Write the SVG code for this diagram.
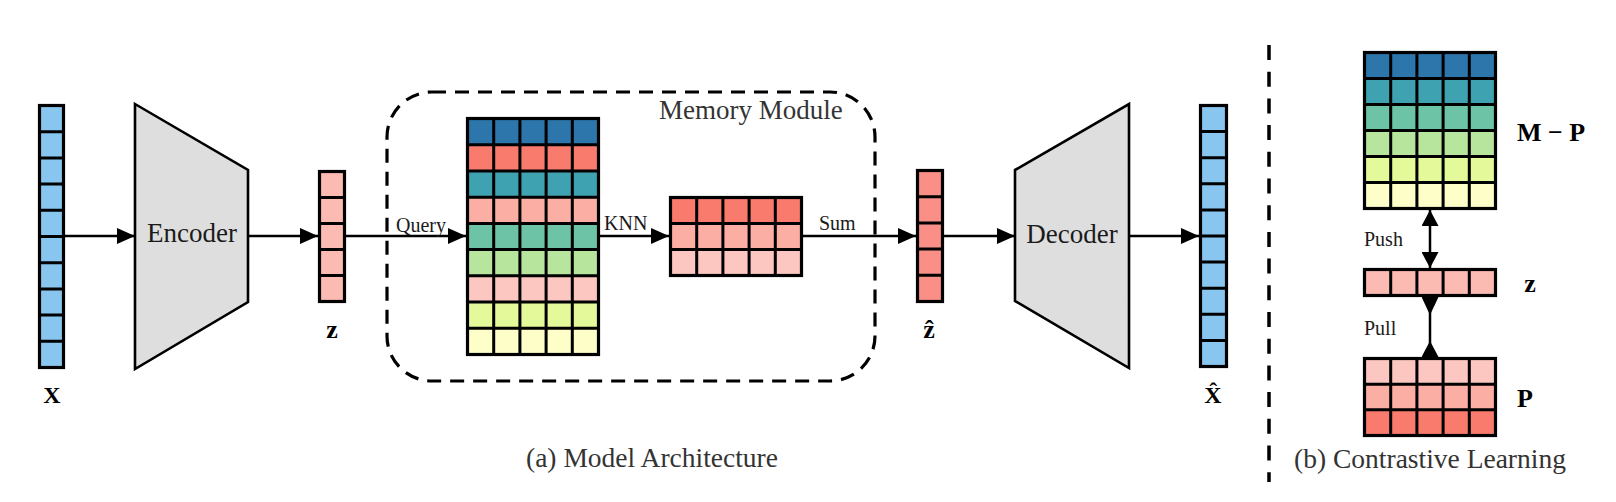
<svg xmlns="http://www.w3.org/2000/svg" width="1616" height="502" viewBox="0 0 1616 502">
<style>
text{font-family:"Liberation Serif",Tinos,"Times New Roman","DejaVu Serif",serif;fill:#1a1a1a}
.lbl{font-size:27px}
.cap{font-size:27.5px;fill:#333}
.small{font-size:20px}
.math{font-size:26px;font-weight:bold;fill:#000}
.grid{fill:none;stroke:#000;stroke-width:3}
.outer{fill:none;stroke:#000;stroke-width:3.2}
.trap{fill:#dedede;stroke:#000;stroke-width:2.6;stroke-linejoin:miter}
.conn{stroke:#000;stroke-width:2.5;fill:none}
.c1{fill:#2c76ab}.c2{fill:#f97b6e}.c3{fill:#3ea2b0}.c4{fill:#fbaea4}.c5{fill:#6cc3a5}
.c6{fill:#b7e59e}.c7{fill:#fcc7c1}.c8{fill:#e3f99a}.c9{fill:#fefec8}
.blue{fill:#89c6ef}.zc{fill:#fbbab2}.zh{fill:#f98f87}
</style>
<defs>
<marker id="arr" markerUnits="userSpaceOnUse" markerWidth="18" markerHeight="16" refX="18" refY="8" orient="auto"><path d="M0,0 L18,8 L0,16 Z" fill="#000"/></marker>
<marker id="arr2" markerUnits="userSpaceOnUse" markerWidth="16" markerHeight="17" refX="16" refY="8.5" orient="auto-start-reverse"><path d="M0,0 L16,8.5 L0,17 Z" fill="#000"/></marker>
<marker id="pullS" markerUnits="userSpaceOnUse" markerWidth="18" markerHeight="17" refX="0" refY="8.5" orient="auto"><path d="M0,0 L18,8.5 L0,17 Z" fill="#000"/></marker>
<marker id="pullE" markerUnits="userSpaceOnUse" markerWidth="16" markerHeight="17" refX="16" refY="8.5" orient="auto"><path d="M16,0 L0,8.5 L16,17 Z" fill="#000"/></marker>
</defs>
<rect width="1616" height="502" fill="#fff"/>

<!-- connectors -->
<g id="connectors">
<line class="conn" x1="65" y1="236" x2="135" y2="236" marker-end="url(#arr)"/>
<line class="conn" x1="248" y1="236" x2="318" y2="236" marker-end="url(#arr)"/>
<line class="conn" x1="346" y1="236" x2="466" y2="236" marker-end="url(#arr)"/>
<line class="conn" x1="600" y1="236" x2="669" y2="236" marker-end="url(#arr)"/>
<line class="conn" x1="803" y1="236" x2="916" y2="236" marker-end="url(#arr)"/>
<line class="conn" x1="944" y1="236" x2="1015" y2="236" marker-end="url(#arr)"/>
<line class="conn" x1="1129" y1="236" x2="1199" y2="236" marker-end="url(#arr)"/>
<line class="conn" x1="1430" y1="210" x2="1430" y2="268" marker-start="url(#arr2)" marker-end="url(#arr2)"/>
<line class="conn" x1="1430" y1="297" x2="1430" y2="357" marker-start="url(#pullS)" marker-end="url(#pullE)"/>
<text class="small" x="396" y="232" font-family="Liberation Serif, serif">Query</text>
<text class="small" x="604" y="230" font-family="Liberation Serif, serif">KNN</text>
<text class="small" x="819" y="230" font-family="Liberation Serif, serif">Sum</text>
<text class="small" x="1364" y="246" font-family="Liberation Serif, serif">Push</text>
<text class="small" x="1364" y="335" font-family="Liberation Serif, serif">Pull</text>
</g>

<!-- memory module container -->
<g id="memory-module">
<rect x="387" y="92" width="488" height="289" rx="45" ry="45" fill="none" stroke="#000" stroke-width="3.2" stroke-dasharray="14 9"/>
<text class="lbl" x="659" y="119" style="fill:#333" font-family="Liberation Serif, serif">Memory Module</text>
</g>

<!-- separator -->
<g id="separator">
<line x1="1269" y1="45" x2="1269" y2="482" stroke="#000" stroke-width="3.5" stroke-dasharray="15 11.7"/>
</g>

<!-- X input -->
<g id="input-x">
<rect class="blue" x="39.5" y="105.5" width="24" height="262"/>
<path class="grid" d="M39.5,131.7H63.5M39.5,157.9H63.5M39.5,184.1H63.5M39.5,210.3H63.5M39.5,236.5H63.5M39.5,262.7H63.5M39.5,288.9H63.5M39.5,315.1H63.5M39.5,341.3H63.5"/>
<rect class="outer" x="39.5" y="105.5" width="24" height="262"/>
<text class="math" x="52" y="403" text-anchor="middle" style="font-size:24px">X</text>
</g>

<!-- Encoder -->
<g id="encoder">
<polygon class="trap" points="135,104 248,170 248,302 135,369"/>
<text class="lbl" x="192" y="242" text-anchor="middle" font-family="Liberation Serif, serif">Encoder</text>
</g>

<!-- z -->
<g id="latent-z">
<rect class="zc" x="319.5" y="171.5" width="25" height="130"/>
<path class="grid" d="M319.5,197.5H344.5M319.5,223.5H344.5M319.5,249.5H344.5M319.5,275.5H344.5"/>
<rect class="outer" x="319.5" y="171.5" width="25" height="130"/>
<text class="math" x="332" y="338" text-anchor="middle">z</text>
</g>

<!-- Memory matrix -->
<g id="memory-matrix">
<rect class="c1" x="467.5" y="118.5" width="131" height="26.22"/>
<rect class="c2" x="467.5" y="144.72" width="131" height="26.22"/>
<rect class="c3" x="467.5" y="170.94" width="131" height="26.22"/>
<rect class="c4" x="467.5" y="197.17" width="131" height="26.22"/>
<rect class="c5" x="467.5" y="223.39" width="131" height="26.22"/>
<rect class="c6" x="467.5" y="249.61" width="131" height="26.22"/>
<rect class="c7" x="467.5" y="275.83" width="131" height="26.22"/>
<rect class="c8" x="467.5" y="302.06" width="131" height="26.22"/>
<rect class="c9" x="467.5" y="328.28" width="131" height="26.22"/>
<path class="grid" d="M493.7,118.5V354.5M519.9,118.5V354.5M546.1,118.5V354.5M572.3,118.5V354.5M467.5,144.72H598.5M467.5,170.94H598.5M467.5,197.17H598.5M467.5,223.39H598.5M467.5,249.61H598.5M467.5,275.83H598.5M467.5,302.06H598.5M467.5,328.28H598.5"/>
<rect class="outer" x="467.5" y="118.5" width="131" height="236"/>
</g>

<!-- KNN result -->
<g id="knn-matrix">
<rect class="c2" x="670.5" y="197.5" width="131" height="26"/>
<rect class="c4" x="670.5" y="223.5" width="131" height="26"/>
<rect class="c7" x="670.5" y="249.5" width="131" height="26"/>
<path class="grid" d="M696.7,197.5V275.5M722.9,197.5V275.5M749.1,197.5V275.5M775.3,197.5V275.5M670.5,223.5H801.5M670.5,249.5H801.5"/>
<rect class="outer" x="670.5" y="197.5" width="131" height="78"/>
</g>

<!-- z hat -->
<g id="latent-zhat">
<rect class="zh" x="917.5" y="170.5" width="25" height="131"/>
<path class="grid" d="M917.5,196.7H942.5M917.5,222.9H942.5M917.5,249.1H942.5M917.5,275.3H942.5"/>
<rect class="outer" x="917.5" y="170.5" width="25" height="131"/>
<text class="math" x="929" y="338" text-anchor="middle">ẑ</text>
</g>

<!-- Decoder -->
<g id="decoder">
<polygon class="trap" points="1015,170 1129,104 1129,368 1015,301"/>
<text class="lbl" x="1072" y="243" text-anchor="middle" font-family="Liberation Serif, serif">Decoder</text>
</g>

<!-- X hat -->
<g id="output-xhat">
<rect class="blue" x="1200.5" y="105.5" width="26" height="261"/>
<path class="grid" d="M1200.5,131.6H1226.5M1200.5,157.7H1226.5M1200.5,183.8H1226.5M1200.5,209.9H1226.5M1200.5,236H1226.5M1200.5,262.1H1226.5M1200.5,288.2H1226.5M1200.5,314.3H1226.5M1200.5,340.4H1226.5"/>
<rect class="outer" x="1200.5" y="105.5" width="26" height="261"/>
<text class="math" x="1213" y="403" text-anchor="middle" style="font-size:24px">X̂</text>
</g>

<!-- (b) M - P -->
<g id="negatives-m-minus-p">
<rect class="c1" x="1364.5" y="52.5" width="131" height="26"/>
<rect class="c3" x="1364.5" y="78.5" width="131" height="26"/>
<rect class="c5" x="1364.5" y="104.5" width="131" height="26"/>
<rect class="c6" x="1364.5" y="130.5" width="131" height="26"/>
<rect class="c8" x="1364.5" y="156.5" width="131" height="26"/>
<rect class="c9" x="1364.5" y="182.5" width="131" height="26"/>
<path class="grid" d="M1390.7,52.5V208.5M1416.9,52.5V208.5M1443.1,52.5V208.5M1469.3,52.5V208.5M1364.5,78.5H1495.5M1364.5,104.5H1495.5M1364.5,130.5H1495.5M1364.5,156.5H1495.5M1364.5,182.5H1495.5"/>
<rect class="outer" x="1364.5" y="52.5" width="131" height="156"/>
<text class="math" x="1517" y="141">M − P</text>
</g>

<!-- (b) z -->
<g id="anchor-z">
<rect class="zc" x="1364.5" y="269.5" width="131" height="26"/>
<path class="grid" d="M1390.7,269.5V295.5M1416.9,269.5V295.5M1443.1,269.5V295.5M1469.3,269.5V295.5"/>
<rect class="outer" x="1364.5" y="269.5" width="131" height="26"/>
<text class="math" x="1530" y="292" text-anchor="middle">z</text>
</g>

<!-- (b) P -->
<g id="positives-p">
<rect class="c7" x="1364.5" y="358.5" width="131" height="25.67"/>
<rect class="c4" x="1364.5" y="384.17" width="131" height="25.67"/>
<rect class="c2" x="1364.5" y="409.83" width="131" height="25.67"/>
<path class="grid" d="M1390.7,358.5V435.5M1416.9,358.5V435.5M1443.1,358.5V435.5M1469.3,358.5V435.5M1364.5,384.17H1495.5M1364.5,409.83H1495.5"/>
<rect class="outer" x="1364.5" y="358.5" width="131" height="77"/>
<text class="math" x="1525" y="407" text-anchor="middle">P</text>
</g>

<!-- captions -->
<g id="captions">
<text class="cap" x="652" y="467" text-anchor="middle" font-family="Liberation Serif, serif">(a) Model Architecture</text>
<text class="cap" x="1430" y="468" text-anchor="middle" font-family="Liberation Serif, serif">(b) Contrastive Learning</text>
</g>
</svg>
